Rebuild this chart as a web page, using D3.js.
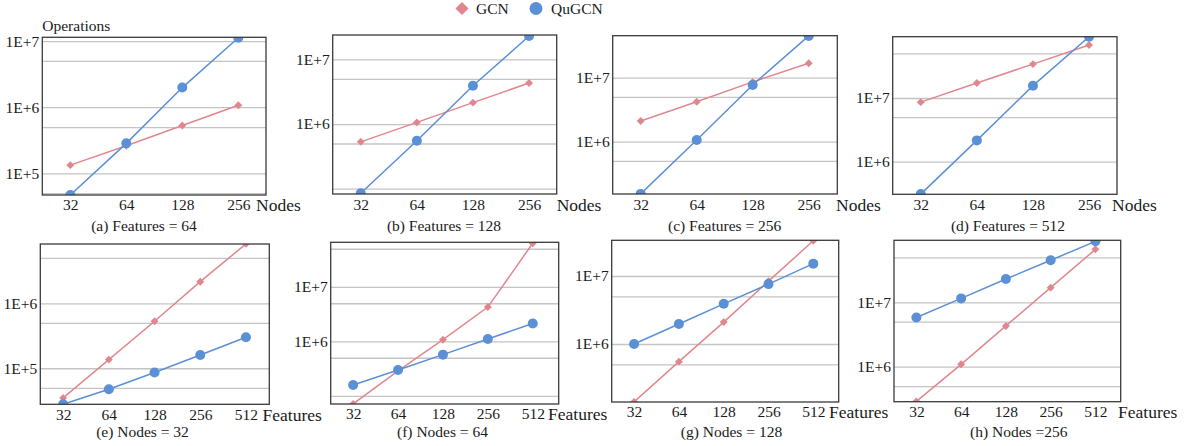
<!DOCTYPE html>
<html>
<head>
<meta charset="utf-8">
<script src="https://cdn.jsdelivr.net/npm/d3@7"></script>
<style>
  html, body { margin: 0; padding: 0; background: #fff; }
</style>
</head>
<body>
<svg id="chart" width="1184" height="446" font-family="'Liberation Serif', 'Times New Roman', Times, serif"></svg>
<script>
// ---------- data ----------
const nodeCats = ["32", "64", "128", "256"];
const featCats = ["32", "64", "128", "256", "512"];
const seriesNames = ["GCN", "QuGCN"];

// (a)-(d): Features fixed, x = Nodes
const gcnA = [1.33e5, 2.61e5, 5.3e5, 1.07e6];
const quA  = [4.7e4, 2.84e5, 1.98e6, 1.12e7];
const gcnB = [5.3e5, 1.06e6, 2.14e6, 4.3e6];
const quB  = [8.5e4, 5.5e5, 3.9e6, 2.3e7];
const gcnC = [2.1e6, 4.2e6, 8.6e6, 1.68e7];
const quC  = [1.53e5, 1.06e6, 7.7e6, 4.5e7];
const gcnD = [8.6e6, 1.72e7, 3.4e7, 6.8e7];
const quD  = [3.1e5, 2.16e6, 1.56e7, 9.15e7];
// (e)-(h): Nodes fixed, x = Features
const gcnE = [3.5e4, 1.36e5, 5.3e5, 2.15e6, 8.2e6];
const quE  = [2.8e4, 4.75e4, 8.6e4, 1.6e5, 3.0e5];
const gcnF = [7.1e4, 2.86e5, 1.07e6, 4.25e6, 6.3e7];
const quF  = [1.58e5, 2.98e5, 5.7e5, 1.1e6, 2.13e6];
const gcnG = [1.41e5, 5.5e5, 2.1e6, 8.4e6, 3.3e7];
const quG  = [1.0e6, 1.97e6, 3.9e6, 7.6e6, 1.52e7];
const gcnH = [2.9e5, 1.09e6, 4.3e6, 1.69e7, 6.65e7];
const quH  = [5.8e6, 1.15e7, 2.3e7, 4.5e7, 8.85e7];

// axis extents (log scale) and tick labels
const domA = [4.7e4, 1.14e7], domB = [8.28e4, 2.38e7], domC = [1.524e5, 4.53e7], domD = [3.076e5, 9.16e7];
const domE = [2.79e4, 8.17e6], domF = [7.08e4, 6.56e7], domG = [1.403e5, 3.35e7], domH = [2.864e5, 9.18e7];
const ticksA = [1e7, 1e6, 1e5], ticksB = [1e7, 1e6], ticksC = [1e7, 1e6], ticksD = [1e7, 1e6];
const ticksE = [1e6, 1e5], ticksF = [1e7, 1e6], ticksG = [1e7, 1e6], ticksH = [1e7, 1e6];
const gridA = [1e7, 5e6, 1e6, 5e5, 1e5, 5e4];
const gridB = [1e7, 5e6, 1e6, 5e5, 1e5];
const gridC = [1e7, 5e6, 1e6, 5e5];
const gridD = [5e7, 1e7, 5e6, 1e6];
const gridE = [5e6, 1e6, 5e5, 1e5, 5e4];
const gridF = [5e7, 1e7, 5e6, 1e6, 5e5, 1e5];
const gridG = [1e7, 5e6, 1e6, 5e5];
const gridH = [5e7, 1e7, 5e6, 1e6, 5e5];
const captions = ["(a) Features = 64", "(b) Features = 128", "(c) Features = 256", "(d) Features = 512",
                  "(e) Nodes = 32", "(f) Nodes = 64", "(g) Nodes = 128", "(h) Nodes =256"];
const xTitles = ["Nodes", "Features"];
const yTitle = "Operations";

// ---------- layout ----------
const layout = [
  {L: 42.3,  R: 266,    xR: 266.3,  T: 37.3,  B: 195,   tickY: 210, titleX: 256,    capX: 144,    capY: 231},
  {L: 332.7, R: 556.7,  xR: 557.1,  T: 35,    B: 194,   tickY: 210, titleX: 556.7,  capX: 444,    capY: 231},
  {L: 612.7, R: 837.3,  xR: 836.7,  T: 35.7,  B: 194,   tickY: 210, titleX: 836,    capX: 724.7,  capY: 231},
  {L: 892.7, R: 1117,   xR: 1117.1, T: 36.7,  B: 194.3, tickY: 210, titleX: 1112,   capX: 1008,   capY: 231},
  {L: 40.3,  R: 269.3,  xR: 268.8,  T: 244,   B: 404.3, tickY: 420, titleX: 262.5,  capX: 142.5,  capY: 437},
  {L: 330.7, R: 558.7,  xR: 555.2,  T: 242.3, B: 404,   tickY: 419, titleX: 548,    capX: 442.5,  capY: 437},
  {L: 611.7, R: 838.7,  xR: 835.7,  T: 240.3, B: 402,   tickY: 417, titleX: 829,    capX: 731.5,  capY: 437},
  {L: 894,   R: 1120.7, xR: 1117.8, T: 240.3, B: 401.7, tickY: 417, titleX: 1118,   capX: 1018.7, capY: 437}
];

const panels = [
  {cats: nodeCats, gcn: gcnA, qu: quA, dom: domA, ticks: ticksA, grid: gridA, title: xTitles[0]},
  {cats: nodeCats, gcn: gcnB, qu: quB, dom: domB, ticks: ticksB, grid: gridB, title: xTitles[0]},
  {cats: nodeCats, gcn: gcnC, qu: quC, dom: domC, ticks: ticksC, grid: gridC, title: xTitles[0]},
  {cats: nodeCats, gcn: gcnD, qu: quD, dom: domD, ticks: ticksD, grid: gridD, title: xTitles[0]},
  {cats: featCats, gcn: gcnE, qu: quE, dom: domE, ticks: ticksE, grid: gridE, title: xTitles[1]},
  {cats: featCats, gcn: gcnF, qu: quF, dom: domF, ticks: ticksF, grid: gridF, title: xTitles[1]},
  {cats: featCats, gcn: gcnG, qu: quG, dom: domG, ticks: ticksG, grid: gridG, title: xTitles[1]},
  {cats: featCats, gcn: gcnH, qu: quH, dom: domH, ticks: ticksH, grid: gridH, title: xTitles[1]}
];

const colGCN = "#e0878e";
const colQu = "#5b8fd6";
const FONT = "'Liberation Serif', 'Times New Roman', Times, serif";
const fs = "15.5px";
const fsTitle = "17.5px";
const txtCol = "#1a1a1a";

const svg = d3.select("#chart");
const diamond = d3.symbol().type(d3.symbolDiamond2);

function styleText(sel, size) {
  return sel.attr("font-family", FONT).attr("font-size", size).attr("fill", txtCol);
}

panels.forEach((p, i) => {
  const lay = layout[i];
  const x = d3.scalePoint().domain(p.cats).range([lay.L, lay.xR]).padding(0.5);
  const y = d3.scaleLog().domain(p.dom).range([lay.B, lay.T]);
  const g = svg.append("g");

  const clipId = "clip" + i;
  svg.append("clipPath").attr("id", clipId).append("rect")
    .attr("x", lay.L).attr("y", lay.T).attr("width", lay.R - lay.L).attr("height", lay.B - lay.T);

  // gridlines
  const grid = g.append("g").attr("transform", `translate(${lay.L},0)`)
    .call(d3.axisLeft(y).tickValues(p.grid).tickSize(-(lay.R - lay.L)).tickFormat(""));
  grid.select(".domain").remove();
  grid.selectAll("line").attr("stroke", "#c4c4c4").attr("stroke-width", 1.3);

  // y tick labels
  const ya = g.append("g").attr("transform", `translate(${lay.L},0)`)
    .call(d3.axisLeft(y).tickValues(p.ticks).tickSize(0).tickPadding(3)
      .tickFormat(d => "1E+" + Math.round(Math.log10(d))));
  ya.attr("font-family", FONT);
  ya.select(".domain").remove();
  styleText(ya.selectAll("text"), fs);

  // x tick labels
  const xa = g.append("g").attr("transform", `translate(0,${lay.B})`)
    .call(d3.axisBottom(x).tickSize(0));
  xa.attr("font-family", FONT);
  xa.select(".domain").remove();
  styleText(xa.selectAll("text"), fs).attr("y", lay.tickY - lay.B).attr("dy", 0);

  // x title
  styleText(g.append("text"), fsTitle).attr("x", lay.titleX).attr("y", lay.tickY + 1).text(p.title);

  // caption
  styleText(g.append("text"), fs).attr("x", lay.capX).attr("y", lay.capY)
    .attr("text-anchor", "middle").text(captions[i]);

  // series
  const plot = g.append("g").attr("clip-path", `url(#${clipId})`);
  const line = d3.line().x((d, k) => x(p.cats[k])).y(d => y(d));
  plot.append("path").datum(p.gcn).attr("d", line).attr("fill", "none")
    .attr("stroke", colGCN).attr("stroke-width", 1.5);
  plot.append("path").datum(p.qu).attr("d", line).attr("fill", "none")
    .attr("stroke", colQu).attr("stroke-width", 1.5);
  plot.selectAll(".dm").data(p.gcn).enter().append("path")
    .attr("d", diamond.size(40)())
    .attr("transform", (d, k) => `translate(${x(p.cats[k])},${y(d)})`)
    .attr("fill", colGCN);
  plot.selectAll(".ci").data(p.qu).enter().append("circle")
    .attr("cx", (d, k) => x(p.cats[k])).attr("cy", d => y(d)).attr("r", 5)
    .attr("fill", colQu);

  // frame
  g.append("rect").attr("x", lay.L).attr("y", lay.T)
    .attr("width", lay.R - lay.L).attr("height", lay.B - lay.T)
    .attr("fill", "none").attr("stroke", "#3a3a3a").attr("stroke-width", 1.3);

  if (i === 0) {
    styleText(g.append("text"), fs).attr("x", lay.L).attr("y", 31).text(yTitle);
  }
});

// legend
const leg = svg.append("g");
leg.append("path").attr("d", d3.symbol().type(d3.symbolDiamond2).size(110)())
  .attr("transform", "translate(462,8.5)").attr("fill", colGCN);
styleText(leg.append("text"), fs).attr("x", 476).attr("y", 13.5).text(seriesNames[0]);
leg.append("circle").attr("cx", 536).attr("cy", 8.5).attr("r", 6.5).attr("fill", colQu);
styleText(leg.append("text"), fs).attr("x", 551).attr("y", 13.5).text(seriesNames[1]);
</script>
</body>
</html>
